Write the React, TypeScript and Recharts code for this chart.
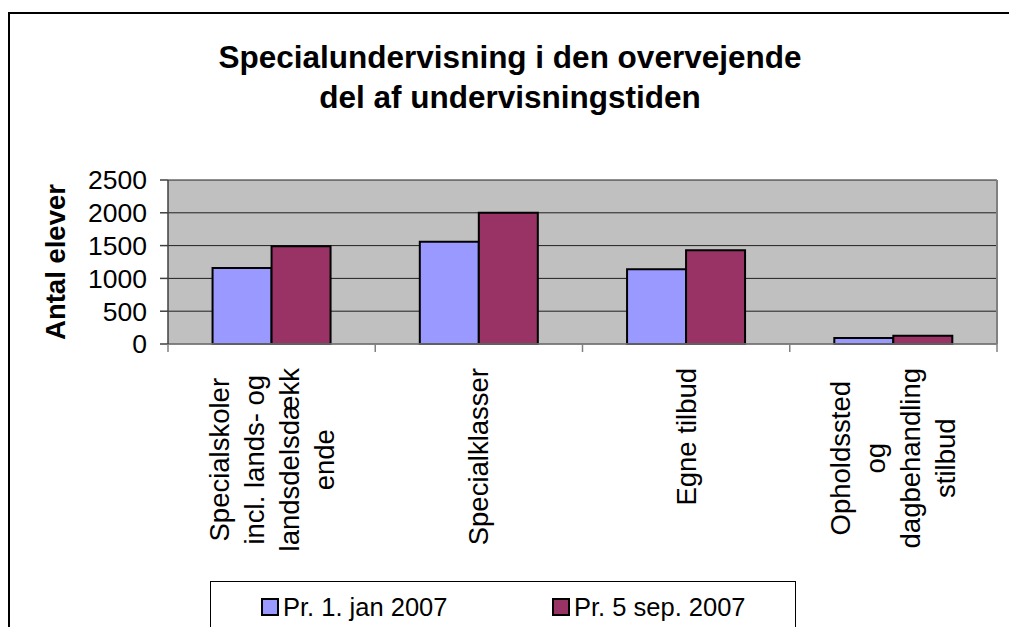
import React from 'react';
import { BarChart, Bar, XAxis, YAxis, CartesianGrid, Legend } from 'recharts';

const categories = [
  'Specialskoler\nincl. lands- og\nlandsdelsdækk\nende',
  'Specialklasser',
  'Egne tilbud',
  'Opholdssted\nog\ndagbehandling\nstilbud',
];
const jan2007 = [1160, 1560, 1140, 90];
const sep2007 = [1490, 2000, 1430, 125];
const yTicks = [0, 500, 1000, 1500, 2000, 2500];
const seriesNames = ['Pr. 1. jan 2007', 'Pr. 5 sep. 2007'];
const seriesColors = ['#9999FF', '#993366'];

const FONT = '"Liberation Sans", Arial, sans-serif';
const PLOT_LEFT = 168;
const PLOT_RIGHT = 997;
const BAND = (PLOT_RIGHT - PLOT_LEFT) / categories.length;
const LABEL_SIZE = 27.5;

const data = categories.map((name, i) => ({ name, jan: jan2007[i], sep: sep2007[i] }));

let ctx: CanvasRenderingContext2D | null = null;
function measure(s: string) {
  if (!ctx) ctx = document.createElement('canvas').getContext('2d');
  if (!ctx) return s.length * 14;
  ctx.font = `${LABEL_SIZE}px ${FONT}`;
  return ctx.measureText(s).width;
}

function CategoryTick({ x, y, payload, index }: any) {
  const lines = String(payload.value).split('\n');
  const maxW = Math.max(...lines.map(measure));
  const lineH = 35;
  const along = -(24 + maxW / 2);
  return (
    <g transform={`translate(${x},${y})`}>
      <line x1={-BAND / 2} y1={0} x2={-BAND / 2} y2={8} stroke="#808080" strokeWidth={1.5} />
      {index === categories.length - 1 && (
        <line x1={BAND / 2} y1={0} x2={BAND / 2} y2={8} stroke="#808080" strokeWidth={1.5} />
      )}
      {lines.map((l, i) => (
        <text
          key={i}
          transform="rotate(-90)"
          x={along}
          y={(i - (lines.length - 1) / 2) * lineH}
          textAnchor="middle"
          dominantBaseline="central"
          fontSize={LABEL_SIZE}
          fontFamily={FONT}
          fill="#000"
        >
          {l}
        </text>
      ))}
    </g>
  );
}

function YTitle({ viewBox }: any) {
  const cx = 55;
  const cy = viewBox.y + viewBox.height / 2;
  return (
    <text
      x={cx}
      y={cy}
      transform={`rotate(-90, ${cx}, ${cy})`}
      textAnchor="middle"
      dominantBaseline="central"
      fontSize={27.5}
      fontWeight="bold"
      fontFamily={FONT}
      fill="#000"
    >
      Antal elever
    </text>
  );
}

function LegendBox() {
  const lefts = [50, 341];
  return (
    <div
      style={{
        boxSizing: 'border-box',
        position: 'relative',
        width: '100%',
        height: '100%',
        border: '1.5px solid #000',
        background: '#fff',
        fontFamily: FONT,
        fontSize: 25.5,
      }}
    >
      {seriesNames.map((n, i) => (
        <div
          key={n}
          style={{ display: 'flex', alignItems: 'center', position: 'absolute', left: lefts[i], top: 10, height: 30 }}
        >
          <span
            style={{
              display: 'inline-block',
              boxSizing: 'border-box',
              width: 18,
              height: 18,
              background: seriesColors[i],
              border: '2.5px solid #000',
              marginRight: 4,
            }}
          />
          <span>{n}</span>
        </div>
      ))}
    </div>
  );
}

export default function App() {
  return (
    <div style={{ position: 'absolute', left: 0, top: 0, width: 1009, height: 627, overflow: 'hidden', background: '#fff' }}>
      <div
        style={{
          position: 'absolute',
          left: 8,
          top: 12,
          width: 1100,
          height: 800,
          border: '2px solid #000',
        }}
      />
      <div
        style={{
          position: 'absolute',
          left: 0,
          top: 37,
          width: 1020,
          textAlign: 'center',
          fontFamily: FONT,
          fontWeight: 'bold',
          fontSize: 31.5,
          lineHeight: '40px',
        }}
      >
        Specialundervisning i den overvejende
        <br />
        del af undervisningstiden
      </div>
      <div style={{ position: 'absolute', left: 0, top: 0 }}>
        <BarChart
          width={1009}
          height={627}
          data={data}
          margin={{ top: 180, right: 1009 - PLOT_RIGHT, bottom: 0, left: 68 }}
          barCategoryGap="21.5%"
          barGap={0}
        >
          <CartesianGrid fill="#C0C0C0" vertical={false} stroke="#202020" strokeOpacity={1} />
          <CartesianGrid horizontal={false} verticalPoints={[PLOT_RIGHT]} stroke="#808080" strokeWidth={2} />
          <XAxis
            dataKey="name"
            interval={0}
            height={223}
            tickLine={false}
            tickSize={0}
            tickMargin={0}
            axisLine={{ stroke: '#808080', strokeWidth: 1.5 }}
            tick={<CategoryTick />}
          />
          <YAxis
            width={100}
            domain={[0, 2500]}
            ticks={yTicks}
            interval={0}
            tickSize={8}
            tickMargin={13}
            axisLine={{ stroke: '#404040', strokeWidth: 1.5 }}
            tickLine={{ stroke: '#404040', strokeWidth: 1.5 }}
            tick={{ fontSize: 26.5, fill: '#000', fontFamily: FONT }}
            label={<YTitle />}
          />
          <Legend
            content={() => <LegendBox />}
            wrapperStyle={{ position: 'absolute', left: 210, top: 581, width: 586, height: 60 }}
          />
          <Bar dataKey="jan" name={seriesNames[0]} fill={seriesColors[0]} stroke="#000" strokeWidth={2} isAnimationActive={false} />
          <Bar dataKey="sep" name={seriesNames[1]} fill={seriesColors[1]} stroke="#000" strokeWidth={2} isAnimationActive={false} />
        </BarChart>
      </div>
    </div>
  );
}
